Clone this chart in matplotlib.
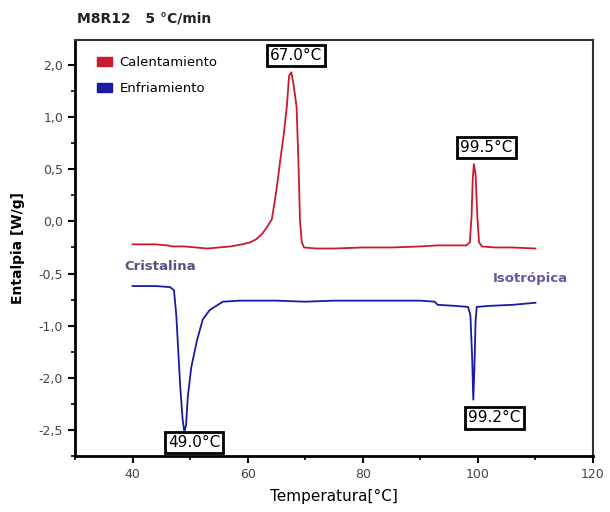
import matplotlib
matplotlib.use("Agg")
import matplotlib.pyplot as plt
from matplotlib.patches import Patch
from matplotlib.ticker import MultipleLocator

# ---- data ----
T_heat = [40, 42, 44, 46, 47, 49, 51, 53, 55, 57, 59, 60.5, 61.5, 62.5, 63.3, 64.2,
          65.0, 65.6, 66.3, 66.8, 67.2, 67.6, 68.0, 68.5, 68.8, 69.1, 69.4, 69.8,
          72, 75, 80, 85, 90, 93, 96, 98.0, 98.6, 98.9, 99.1, 99.3, 99.6, 99.9,
          100.2, 100.7, 103, 106, 110]
H_heat = [-0.22, -0.22, -0.22, -0.23, -0.24, -0.24, -0.25, -0.26, -0.25, -0.24, -0.22,
          -0.20, -0.17, -0.12, -0.06, 0.02, 0.30, 0.56, 0.85, 1.10, 1.40, 1.43, 1.30,
          1.10, 0.60, 0.00, -0.20, -0.25, -0.26, -0.26, -0.25, -0.25, -0.24, -0.23,
          -0.23, -0.23, -0.20, 0.05, 0.40, 0.55, 0.45, 0.05, -0.20, -0.24, -0.25,
          -0.25, -0.26]

T_cool = [40, 42, 44, 46.5, 47.2, 47.6, 47.9, 48.3, 48.7, 49.0, 49.3, 49.6, 50.2,
          51.2, 52.2, 53.4, 55.7, 58.6, 65, 70, 75, 80, 85, 90, 92.5, 93.0, 96,
          98.3, 98.7, 99.0, 99.2, 99.4, 99.6, 99.8, 102, 106, 110]
H_cool = [-0.62, -0.62, -0.62, -0.63, -0.66, -0.90, -1.20, -1.60, -1.90, -2.02,
          -1.95, -1.68, -1.40, -1.14, -0.94, -0.85, -0.77, -0.76, -0.76, -0.77,
          -0.76, -0.76, -0.76, -0.76, -0.77, -0.80, -0.81, -0.82, -0.90, -1.30,
          -1.71, -1.40, -0.95, -0.82, -0.81, -0.80, -0.78]

y_tick_pos = [1.5, 1.0, 0.5, 0.0, -0.5, -1.0, -1.5, -2.0]
y_tick_labels = ["2,0", "1,0", "0,5", "0,0", "-0,5", "-1,0", "-2,0", "-2,5"]
x_tick_pos = [40, 60, 80, 100, 120]
x_tick_labels = ["40", "60", "80", "100", "120"]

peak_labels = ["67.0°C", "99.5°C", "49.0°C", "99.2°C"]
label_xy = [(68.4, 1.59), (101.5, 0.71), (50.7, -2.12), (102.9, -1.885)]

series_names = ["Calentamiento", "Enfriamiento"]
series_colors = ["#cc1a2a", "#1a1aa6"]

# ---- figure ----
fig = plt.figure(figsize=(6.10, 5.12), dpi=100)
ax = fig.add_axes([75/610, 1-456/512, (593-75)/610, (456-40)/512])

ax.plot(T_heat, H_heat, color=series_colors[0], lw=1.3)
ax.plot(T_cool, H_cool, color=series_colors[1], lw=1.3)

ax.set_xlim(30, 120)
ax.set_ylim(-2.25, 1.74)

ax.set_xticks(x_tick_pos)
ax.set_xticklabels(x_tick_labels)
ax.xaxis.set_minor_locator(MultipleLocator(10))
ax.set_yticks(y_tick_pos)
ax.set_yticklabels(y_tick_labels)
ax.yaxis.set_minor_locator(MultipleLocator(0.25))

ax.tick_params(axis="both", which="major", direction="out", length=5, width=1.5,
               labelsize=9, colors="black")
ax.tick_params(axis="both", which="minor", direction="out", length=3, width=1.2)
for lab in ax.get_xticklabels() + ax.get_yticklabels():
    lab.set_color("#444444")

for side in ["left", "bottom"]:
    ax.spines[side].set_linewidth(2.0)
for side in ["top", "right"]:
    ax.spines[side].set_linewidth(1.5)
    ax.spines[side].set_color("#333333")

ax.set_xlabel("Temperatura[°C]", fontsize=11, labelpad=6)
ax.set_ylabel("Entalpia [W/g]", fontsize=10, fontweight="bold", labelpad=10)

for (lx, ly), txt in zip(label_xy, peak_labels):
    ax.text(lx, ly, txt, fontsize=11, ha="center", va="center", color="black",
            bbox=dict(boxstyle="square,pad=0.2", fc="white", ec="black", lw=2.0))

ax.text(38.5, -0.47, "Cristalina", fontsize=9.5, fontweight="bold", color="#5a4f82")
ax.text(102.5, -0.58, "Isotrópica", fontsize=9.5, fontweight="bold", color="#6a55a0")

handles = [Patch(facecolor=c, edgecolor=c) for c in series_colors]
ax.legend(handles, series_names, loc="upper left", bbox_to_anchor=(0.02, 0.99),
          frameon=False, fontsize=9.5, handlelength=1.1, handleheight=0.7,
          labelspacing=1.0, handletextpad=0.6)

fig.text(77/610, 1-18/512, "M8R12   5 °C/min", fontsize=10, fontweight="bold",
         ha="left", va="center", color="#222222")

fig.savefig("out.png", dpi=100)
